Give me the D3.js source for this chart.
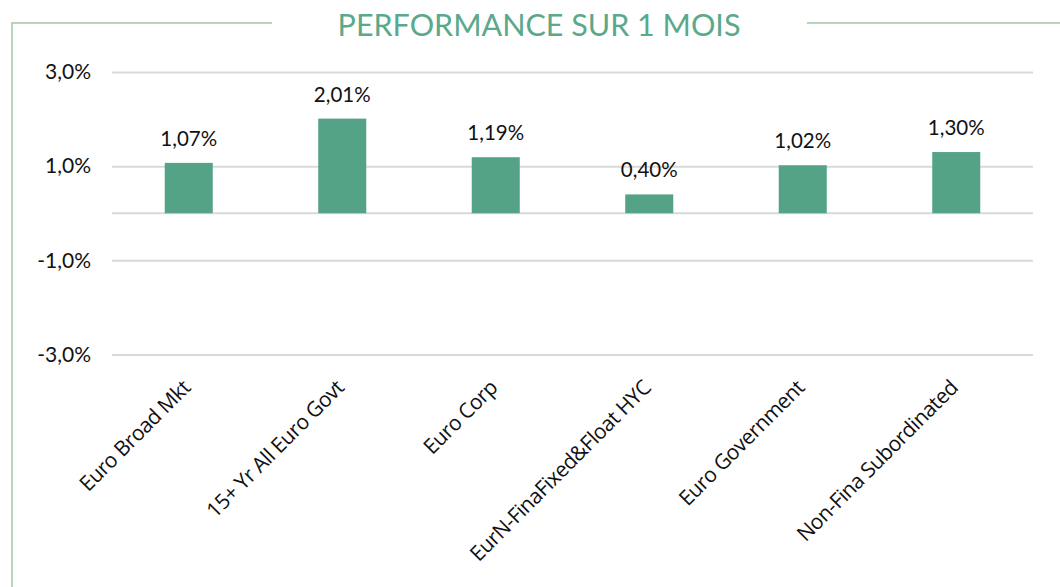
<!DOCTYPE html>
<html>
<head>
<meta charset="utf-8">
<script src="https://cdn.jsdelivr.net/npm/d3@7"></script>
<style>
  body { margin: 0; background: #fff; }
  svg { display: block; }
</style>
</head>
<body>
<script>
(function() {

    const width = 1060;
    const height = 587;

    // chart data
    const categories = ["Euro Broad Mkt", "15+ Yr All Euro Govt", "Euro Corp",
        "EurN-FinaFixed&Float HYC", "Euro Government", "Non-Fina Subordinated"];
    const values = [1.07, 2.01, 1.19, 0.40, 1.02, 1.30];
    const tickValues = [-3, -1, 1, 3];
    const title = "PERFORMANCE SUR 1 MOIS";

    const margin = {left: 112, right: 27, top: 72, bottom: 233};
    const green = "#55a386";
    const frame = "#b7d6b9";

    const fmt = (v, d) => v.toFixed(d).replace(".", ",") + "%";

    let svg = d3.select("body").append("svg")
        .attr("width", width)
        .attr("height", height);

    // frame around the chart with the title in the gap
    svg.append("line")
        .attr("x1", 12).attr("y1", 23).attr("x2", 272).attr("y2", 23)
        .style("stroke", frame).style("stroke-width", 2);
    svg.append("line")
        .attr("x1", 807).attr("y1", 23).attr("x2", width).attr("y2", 23)
        .style("stroke", frame).style("stroke-width", 2);
    svg.append("line")
        .attr("x1", 12).attr("y1", 22).attr("x2", 12).attr("y2", height)
        .style("stroke", frame).style("stroke-width", 2);

    svg.append("text")
        .attr("x", 539)
        .attr("y", 36)
        .attr("text-anchor", "middle")
        .style("font-family", "Lato, sans-serif")
        .style("font-size", "30.5px")
        .style("fill", "#5aa98a")
        .text(title);

    let x = d3.scaleBand()
        .domain(categories)
        .range([margin.left, width - margin.right])
        .paddingInner(0.687)
        .paddingOuter(0.3435);

    let y = d3.scaleLinear()
        .domain([-3, 3])
        .range([height - margin.bottom + 0.5, margin.top]);

    // gridlines + y labels
    let yAxis = svg.append("g")
        .attr("transform", "translate(" + margin.left + ",0)")
        .call(d3.axisLeft(y)
            .tickValues(tickValues)
            .tickSize(-(width - margin.left - margin.right))
            .tickPadding(21)
            .tickFormat(d => fmt(d, 1)));
    yAxis.select(".domain").remove();
    yAxis.selectAll(".tick line")
        .style("stroke", "#d9d9d9")
        .style("stroke-width", 2);
    yAxis.selectAll(".tick text")
        .style("font-family", "Lato, sans-serif")
        .style("font-size", "21px")
        .style("fill", "#111");

    // zero line
    svg.append("line")
        .attr("x1", margin.left).attr("x2", width - margin.right)
        .attr("y1", y(0)).attr("y2", y(0))
        .style("stroke", "#d9d9d9").style("stroke-width", 2);

    // bars
    svg.selectAll("rect.bar")
        .data(values)
        .enter()
        .append("rect")
        .attr("class", "bar")
        .attr("x", (d, i) => x(categories[i]))
        .attr("width", x.bandwidth())
        .attr("y", d => y(Math.max(0, d)))
        .attr("height", d => Math.abs(y(d) - y(0)))
        .style("fill", green);

    // value labels
    svg.selectAll("text.val")
        .data(values)
        .enter()
        .append("text")
        .attr("class", "val")
        .attr("x", (d, i) => x(categories[i]) + x.bandwidth() / 2)
        .attr("y", d => y(d) - 17)
        .attr("text-anchor", "middle")
        .style("font-family", "Lato, sans-serif")
        .style("font-size", "20.5px")
        .style("fill", "#111")
        .text(d => fmt(d, 2));

    // rotated category labels
    svg.selectAll("text.cat")
        .data(categories)
        .enter()
        .append("text")
        .attr("class", "cat")
        .attr("text-anchor", "end")
        .attr("transform", d => "translate(" + (x(d) + x.bandwidth() / 2 + 3) + ",389) rotate(-45)")
        .style("font-family", "'Open Sans', sans-serif")
        .style("font-size", "21px")
        .style("letter-spacing", "-0.5px")
        .style("fill", "#111")
        .text(d => d);

})();
</script>
</body>
</html>
